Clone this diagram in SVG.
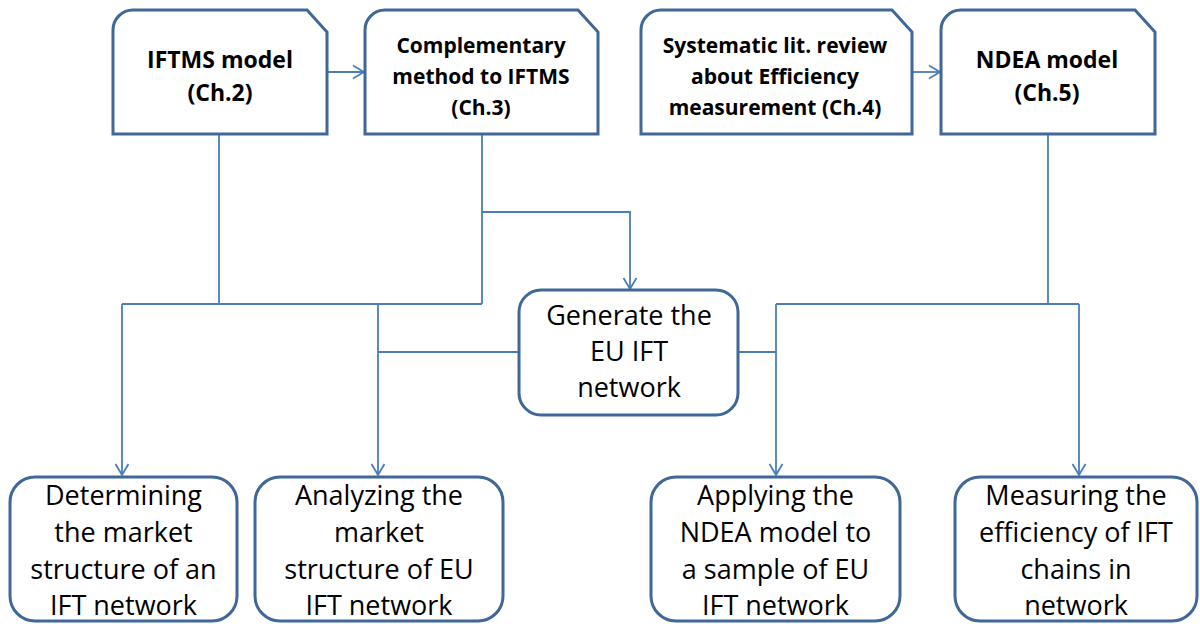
<svg xmlns="http://www.w3.org/2000/svg" width="1200" height="624" viewBox="0 0 1200 624">
<style>
.box{fill:#fff;stroke:#3f6797;stroke-width:3}
.con{fill:none;stroke:#4a7ebb;stroke-width:1.8}
.tb{font-family:"Open Sans","Liberation Sans",sans-serif;font-weight:bold;fill:#000;text-anchor:middle}
.tr{font-family:"Open Sans","Liberation Sans",sans-serif;font-size:27px;fill:#000;text-anchor:middle}
</style>
<defs>
<marker id="arr" markerUnits="userSpaceOnUse" markerWidth="14" markerHeight="14" refX="11" refY="6.5" orient="auto" overflow="visible">
<path d="M0,0 L11,6.5 L0,13" fill="none" stroke="#4a7ebb" stroke-width="1.8"/>
</marker>
</defs>
<rect width="1200" height="624" fill="#fff"/>
<g id="connectors">
<path class="con" d="M327,72 H364" marker-end="url(#arr)"/>
<path class="con" d="M912,72 H940" marker-end="url(#arr)"/>
<path class="con" d="M219,134 V304"/>
<path class="con" d="M482,134 V304"/>
<path class="con" d="M482,212 H630 V289" marker-end="url(#arr)"/>
<path class="con" d="M122,304 H482"/>
<path class="con" d="M122,304 V475" marker-end="url(#arr)"/>
<path class="con" d="M378,304 V475" marker-end="url(#arr)"/>
<path class="con" d="M378,352 H519"/>
<path class="con" d="M1048,134 V304"/>
<path class="con" d="M776,304 H1079"/>
<path class="con" d="M776,304 V475" marker-end="url(#arr)"/>
<path class="con" d="M1079,304 V475" marker-end="url(#arr)"/>
<path class="con" d="M738,352 H776"/>
</g>
<g id="n1">
<path class="box" d="M113,134 V30 A20,20 0 0 1 133,10 H307 L327,32 V134 Z"/>
<text class="tb" font-size="23" x="220" y="68">IFTMS model</text>
<text class="tb" font-size="23" x="220" y="101">(Ch.2)</text>
</g>
<g id="n2">
<path class="box" d="M365,134 V30 A20,20 0 0 1 385,10 H578 L598,32 V134 Z"/>
<text class="tb" font-size="21" x="481" y="53">Complementary</text>
<text class="tb" font-size="21" x="481" y="84">method to IFTMS</text>
<text class="tb" font-size="21" x="481" y="115">(Ch.3)</text>
</g>
<g id="n3">
<path class="box" d="M641,134 V30 A20,20 0 0 1 661,10 H892 L912,32 V134 Z"/>
<text class="tb" font-size="21" x="775" y="53">Systematic lit. review</text>
<text class="tb" font-size="21" x="775" y="84">about Efficiency</text>
<text class="tb" font-size="21" x="775" y="115">measurement (Ch.4)</text>
</g>
<g id="n4">
<path class="box" d="M941,134 V30 A20,20 0 0 1 961,10 H1135 L1155,32 V134 Z"/>
<text class="tb" font-size="23" x="1047" y="68">NDEA model</text>
<text class="tb" font-size="23" x="1047" y="101">(Ch.5)</text>
</g>
<g id="n5">
<rect class="box" x="519" y="290" width="219" height="125" rx="22"/>
<text class="tr" x="629" y="325">Generate the</text>
<text class="tr" x="629" y="361">EU IFT</text>
<text class="tr" x="629" y="397">network</text>
</g>
<g id="n6">
<rect class="box" x="10" y="477" width="227" height="144" rx="25"/>
<text class="tr" x="123.5" y="505">Determining</text>
<text class="tr" x="123.5" y="542">the market</text>
<text class="tr" x="123.5" y="579">structure of an</text>
<text class="tr" x="123.5" y="615">IFT network</text>
</g>
<g id="n7">
<rect class="box" x="255" y="477" width="248" height="144" rx="25"/>
<text class="tr" x="379" y="505">Analyzing the</text>
<text class="tr" x="379" y="542">market</text>
<text class="tr" x="379" y="579">structure of EU</text>
<text class="tr" x="379" y="615">IFT network</text>
</g>
<g id="n8">
<rect class="box" x="651" y="477" width="249" height="144" rx="25"/>
<text class="tr" x="775.5" y="505">Applying the</text>
<text class="tr" x="775.5" y="542">NDEA model to</text>
<text class="tr" x="775.5" y="579">a sample of EU</text>
<text class="tr" x="775.5" y="615">IFT network</text>
</g>
<g id="n9">
<rect class="box" x="955" y="477" width="242" height="144" rx="25"/>
<text class="tr" x="1076" y="505">Measuring the</text>
<text class="tr" x="1076" y="542">efficiency of IFT</text>
<text class="tr" x="1076" y="579">chains in</text>
<text class="tr" x="1076" y="615">network</text>
</g>
</svg>
